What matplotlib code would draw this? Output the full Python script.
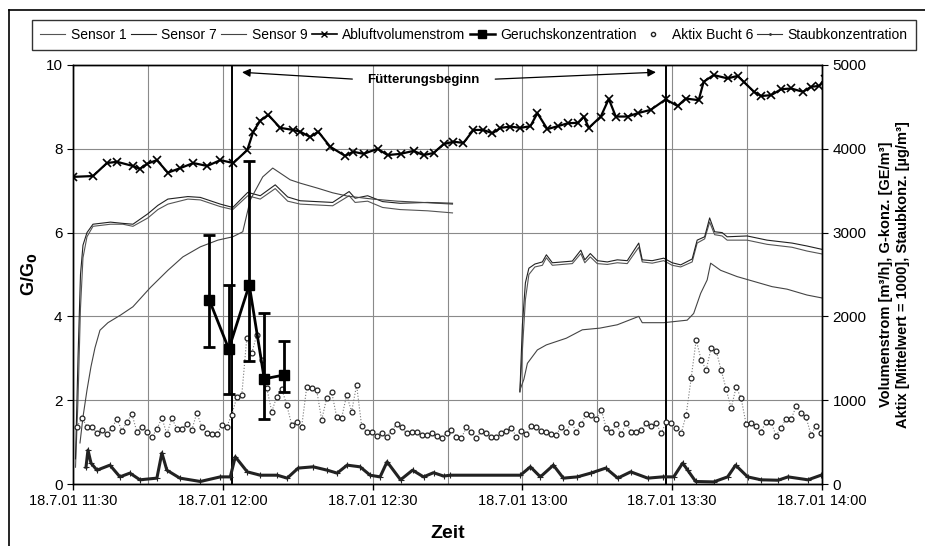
import numpy as np
import matplotlib
matplotlib.use("Agg")
import matplotlib.pyplot as plt
from matplotlib.lines import Line2D

plt.rcParams['font.family'] = ['Liberation Sans', 'DejaVu Sans']

# ---------------- data (time in minutes after 18.7.01 11:30) ----------------
tick_minutes = [0, 30, 60, 90, 120, 150]
tick_labels = ["18.7.01 11:30", "18.7.01 12:00", "18.7.01 12:30",
               "18.7.01 13:00", "18.7.01 13:30", "18.7.01 14:00"]

# Sensors (G/G0, left axis); NaN separates the two measurement periods
fast_t = [0.5, 1.0, 1.5, 2.0, 2.8, 4.0, 7.5, 10, 12, 15, 17, 19, 23, 25.5, 29.5, 32, 35, 37.5,
          40.5, 43, 45.5, 52, 55.3, 56.5, 59, 62, 65.5, 71, 76, np.nan,
          89.5, 90.0, 90.6, 91.3, 92.5, 94.0, 94.8, 96, 98, 100, 101.7, 102.5, 103.6, 105, 107,
          109, 111, 113.3, 114, 116, 118.3, 120, 121.7, 124, 125, 126.5, 127.5, 128.5, 130, 131,
          135, 139, 144, 147, 150]
sensor7 = [0.6, 3.0, 5.0, 5.7, 6.0, 6.2, 6.25, 6.22, 6.2, 6.45, 6.65, 6.8, 6.86, 6.84, 6.68, 6.6,
           6.96, 6.88, 7.14, 6.85, 6.76, 6.72, 6.98, 6.82, 6.88, 6.74, 6.7, 6.72, 6.7, np.nan,
           2.2, 3.8, 4.8, 5.15, 5.25, 5.3, 5.47, 5.28, 5.3, 5.32, 5.58, 5.35, 5.5, 5.33, 5.3, 5.35,
           5.33, 5.75, 5.35, 5.33, 5.39, 5.28, 5.23, 5.37, 5.82, 5.9, 6.35, 6.02, 6.0, 5.9, 5.92,
           5.82, 5.75, 5.68, 5.6]
sensor1 = [0.4, 2.0, 4.2, 5.4, 5.9, 6.15, 6.2, 6.2, 6.15, 6.35, 6.55, 6.68, 6.8, 6.78, 6.62, 6.55,
           6.88, 6.8, 7.05, 6.75, 6.68, 6.64, 6.88, 6.72, 6.75, 6.6, 6.55, 6.52, 6.47, np.nan,
           2.2, 3.2, 4.4, 5.0, 5.18, 5.22, 5.4, 5.22, 5.24, 5.26, 5.5, 5.28, 5.42, 5.26, 5.24, 5.28,
           5.26, 5.65, 5.3, 5.27, 5.33, 5.22, 5.18, 5.3, 5.75, 5.85, 6.25, 5.95, 5.92, 5.82, 5.82,
           5.72, 5.65, 5.56, 5.49]
slow_t = [1.4, 2.0, 2.8, 3.6, 4.4, 5.4, 7.0, 9.5, 12, 15.5, 19, 22, 25.5, 29, 32, 34, 35.5, 38, 40,
          43.5, 45.5, 49, 52, 55, 60, 65, 70, 76, np.nan,
          89.5, 90.3, 91.0, 93.0, 94.8, 98.8, 102.0, 105.5, 109, 113.3, 114, 118.3, 123, 124.3,
          125.7, 127, 127.7, 129.7, 133, 136.5, 140, 143, 147, 150]
sensor9 = [0.98, 1.6, 2.24, 2.8, 3.25, 3.67, 3.85, 4.03, 4.23, 4.69, 5.1, 5.42, 5.66, 5.82, 5.9,
           6.02, 6.78, 7.33, 7.54, 7.26, 7.18, 7.06, 6.95, 6.87, 6.8, 6.75, 6.72, 6.68, np.nan,
           2.24, 2.5, 2.88, 3.2, 3.32, 3.48, 3.68, 3.72, 3.8, 4.0, 3.85, 3.85, 3.91, 4.07, 4.55,
           4.87, 5.27, 5.1, 4.95, 4.83, 4.71, 4.65, 4.51, 4.44]

# Abluftvolumenstrom [m3/h] (right axis)
abluft_t = [0, 4.0, 6.8, 8.8, 12.0, 13.4, 14.8, 16.8, 19.0, 21.5, 24.1, 26.9, 29.5, 32.1, 34.9,
            36.1, 37.5, 39.1, 41.5, 44.1, 45.5, 47.5, 49.1, 51.5, 54.5, 56.1, 58.2, 61.0, 63.0,
            65.6, 68.2, 70.2, 72.2, 74.2, 76.2, 78.2, 80.2, 82.2, 84.0, 85.6, 87.6, 89.6, 91.6,
            93.0, 95.0, 97.1, 99.1, 101.1, 102.3, 103.3, 105.7, 107.3, 108.7, 111.1, 113.1, 115.7,
            118.7, 121.1, 122.7, 125.3, 126.3, 128.3, 131.1, 133.1, 134.3, 136.4, 137.8, 139.8,
            141.8, 143.8, 146.2, 147.8, 149.4, 150.6]
abluft = [3665, 3675, 3830, 3845, 3795, 3760, 3820, 3865, 3715, 3770, 3830, 3795, 3865, 3830, 3985,
          4205, 4335, 4405, 4250, 4225, 4205, 4140, 4205, 4025, 3915, 3965, 3940, 4000, 3925,
          3940, 3975, 3925, 3950, 4055, 4085, 4070, 4225, 4225, 4185, 4250, 4265, 4250, 4270,
          4425, 4235, 4270, 4305, 4310, 4385, 4250, 4385, 4595, 4385, 4385, 4425, 4465,
          4590, 4510, 4600, 4580, 4800, 4880, 4840, 4870, 4800, 4680, 4630, 4640,
          4710, 4720, 4680, 4740, 4750, 4830]

# Geruchskonzentration [GE/m3] with min/max bars (right axis)
geruch_t = [27.3, 31.2, 35.3, 38.3, 42.2]
geruch = [2195, 1610, 2375, 1255, 1300]
geruch_hi = [2970, 2375, 3860, 2040, 1710]
geruch_lo = [1635, 1075, 1470, 775, 1100]

# Aktix Bucht 6 [Mittelwert = 1000], one value per minute starting 11:30:48 (right axis)
aktix_start = 0.8
aktix = [685, 790, 685, 685, 605, 645, 595, 670, 775, 635, 740, 835, 620, 685, 625, 560, 655, 790,
         595, 785, 660, 660, 715, 645, 850, 680, 605, 595, 595, 705, 685, 825, 1035, 1060, 1740,
         1560, 1780, 1480, 1145, 865, 1040, 1135, 945, 705, 745, 685,
         1155, 1150, 1120, 765, 1025, 1100, 800, 790, 1060, 865, 1180, 695, 625, 625, 575, 605,
         560, 635, 715, 685, 605, 625, 615, 590, 590, 605, 575, 550, 605, 645, 565, 550, 680, 615,
         550, 635, 605, 560, 560, 605, 635, 665, 565, 635, 595, 695, 685, 635, 625, 595, 590, 685,
         625, 740, 620, 715, 835, 825, 775, 885, 665, 615, 715, 595, 730, 625, 615, 645, 725,
         690, 725, 605, 740, 725, 670, 605, 825, 1265, 1720, 1480, 1360, 1625, 1590, 1360, 1135,
         905, 1155, 1025, 715, 730, 695, 625, 745, 740, 575, 670, 775, 770, 925, 850, 800, 585,
         695, 610]

# Staubkonzentration [ug/m3] (right axis)
staub_t = [2.6, 3.0, 3.6, 4.8, 7.4, 9.4, 11.4, 13.4, 16.8, 17.8, 18.8, 21.4, 25.5, 29.5, 31.5,
           32.5, 34.9, 37.5, 40.9, 42.9, 45.1, 48.1, 50.9, 52.9, 54.9, 57.5, 59.5, 61.5, 62.9,
           65.6, 68.0, 70.2, 72.2, 74.2, 75.6, 89.6, 91.6, 93.6, 96.2, 98.2, 101.0, 103.7, 106.7,
           109.1, 111.7, 115.1, 118.1, 120.3, 122.1, 123.1, 124.7, 128.3, 131.1, 132.7, 135.1,
           137.8, 141.2, 143.2, 147.2, 149.8]
staub = [200, 405, 250, 165, 225, 85, 130, 50, 70, 370, 165, 70, 30, 85, 85,
         325, 145, 105, 105, 70, 190, 205, 165, 130, 225, 205, 105, 85, 265,
         50, 165, 85, 135, 95, 105, 105, 205, 85, 225, 70, 85, 130, 190,
         70, 145, 70, 85, 85, 250, 165, 30, 25, 85, 225, 85,
         50, 45, 85, 50, 105]

feeding_start = [31.9, 118.7]
feeding_label = "Fütterungsbeginn"

# ---------------- figure ----------------
fig = plt.figure(figsize=(9.25, 5.46), dpi=100)
ax = fig.add_axes([73 / 925, 1 - 484 / 546, (822 - 73) / 925, (484 - 65) / 546])
ax2 = ax.twinx()

ax.set_xlim(0, 150)
ax.set_ylim(0, 10)
ax2.set_ylim(0, 5000)

ax.set_xticks(tick_minutes)
ax.set_xticklabels(tick_labels, fontsize=10.5)
ax.set_xticks([15, 45, 75, 105, 135], minor=True)
ax.tick_params(axis='x', which='minor', length=0)
ax.tick_params(axis='x', which='major', length=4, direction='out', width=1)
ax.set_yticks([0, 2, 4, 6, 8, 10])
ax.tick_params(axis='y', labelsize=11, length=4, direction='out')
ax2.set_yticks([0, 1000, 2000, 3000, 4000, 5000])
ax2.tick_params(axis='y', labelsize=11, length=4, direction='out')

ax.grid(True, which='both', color='#8a8a8a', lw=0.8)
ax.set_axisbelow(True)
for a in (ax, ax2):
    for s in a.spines.values():
        s.set_color('black')
        s.set_linewidth(1.0)

# sensors (left axis)
ax.plot(fast_t, sensor1, color='#555555', lw=0.8)
ax.plot(fast_t, sensor7, color='#222222', lw=0.8)
ax.plot(slow_t, sensor9, color='#444444', lw=0.8)

# feeding lines
for fx in feeding_start:
    ax.axvline(fx, color='black', lw=1.4, zorder=3)

# right-axis series
ax2.plot(staub_t, staub, color='#222222', lw=2.2, marker='+', ms=4, mew=0.8)
ax2.plot(np.arange(len(aktix)) + aktix_start, aktix, ls=':', color='#777777', lw=0.8,
         marker='o', ms=3.5, mfc='white', mec='#222222', mew=0.9)
ax2.plot(abluft_t, abluft, color='black', lw=1.6, marker='x', ms=6, mew=1.2)
g = np.array(geruch)
ax2.errorbar(geruch_t, geruch, yerr=[g - np.array(geruch_lo), np.array(geruch_hi) - g],
             color='black', lw=2.0, marker='s', ms=7, capsize=4, capthick=2, elinewidth=2)

# Fütterungsbeginn annotation
ax.text(70.2, 9.64, feeding_label, ha='center', va='center', fontsize=9.5, fontweight='bold')
ax.annotate('', xy=(33.3, 9.83), xytext=(56.5, 9.66),
            arrowprops=dict(arrowstyle='-|>', color='black', lw=0.9, mutation_scale=12))
ax.annotate('', xy=(117.3, 9.83), xytext=(84.0, 9.66),
            arrowprops=dict(arrowstyle='-|>', color='black', lw=0.9, mutation_scale=12))

# labels
ax.set_ylabel("G/G$_\\mathbf{0}$", fontsize=13, fontweight='bold')
ax.yaxis.set_label_coords(-(73 - 39) / 749, 0.5)
ax2.set_ylabel("Volumenstrom [m³/h], G-konz. [GE/m³]\nAktix [Mittelwert = 1000], Staubkonz. [µg/m³]",
               fontsize=10.5, fontweight='bold', labelpad=9, linespacing=1.25)
ax.set_xlabel("Zeit", fontsize=14, fontweight='bold', labelpad=12)

# legend
handles = [
    Line2D([], [], color='#555555', lw=0.8),
    Line2D([], [], color='#222222', lw=0.8),
    Line2D([], [], color='#444444', lw=0.8),
    Line2D([], [], color='black', lw=1.2, marker='x', ms=5, mew=1.0),
    Line2D([], [], color='black', lw=1.8, marker='s', ms=6),
    Line2D([], [], ls='none', marker='o', ms=3, mfc='white', mec='#222222'),
    Line2D([], [], color='#333333', lw=0.8, marker='.', ms=2),
]
labels = ["Sensor 1", "Sensor 7", "Sensor 9", "Abluftvolumenstrom",
          "Geruchskonzentration", "Aktix Bucht 6", "Staubkonzentration"]
leg = fig.legend(handles, labels, ncol=7, loc='center',
                 bbox_to_anchor=(25 / 925, 1 - 53 / 546, 898 / 925, 36 / 546), mode='expand',
                 fontsize=10, frameon=True, fancybox=False, edgecolor='black',
                 handlelength=1.8, handletextpad=0.4, columnspacing=0.8, borderpad=0.6)
leg.get_frame().set_linewidth(1.0)

# outer frame (top and left border of the original graphic)
fig.add_artist(Line2D([9 / 925, 1.0], [1 - 10 / 546, 1 - 10 / 546], color='black', lw=1.2,
                      transform=fig.transFigure))
fig.add_artist(Line2D([9 / 925, 9 / 925], [0, 1 - 10 / 546], color='black', lw=1.2,
                      transform=fig.transFigure))

fig.savefig("out.png", dpi=100)
